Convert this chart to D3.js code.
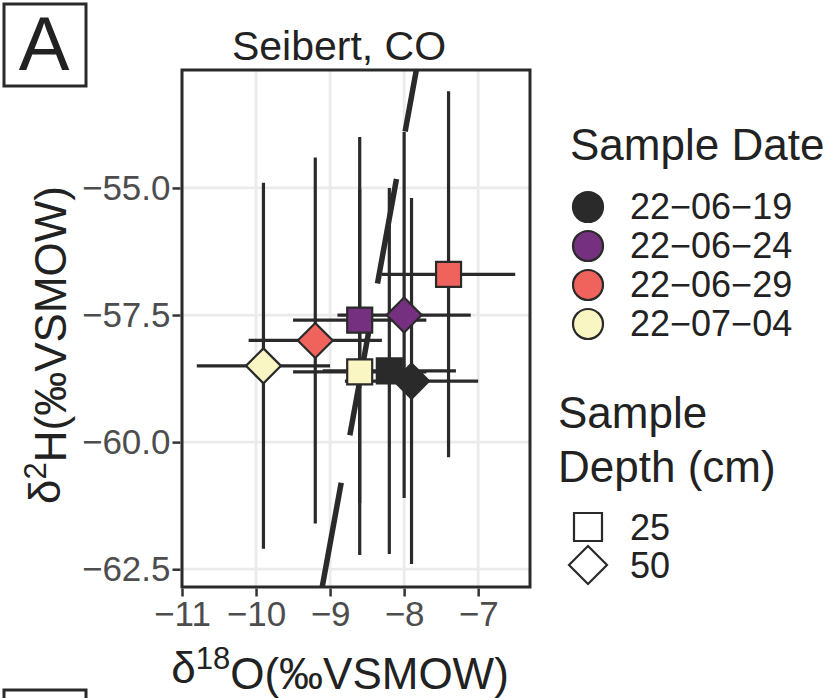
<!DOCTYPE html>
<html lang="en">
<head>
<meta charset="UTF-8" />
<title>Seibert, CO</title>
<script src="https://d3js.org/d3.v7.min.js"></script>
<style>
  body { margin: 0; background: #fff; }
  text { font-family: "Liberation Sans", Arial, sans-serif; }
</style>
</head>
<body>
<div id="chart"></div>
<script>
var w = 833;
var h = 698;

// data
var dates = ["22-06-19", "22-06-24", "22-06-29", "22-07-04"];
var dateColors = ["#2a2a2a", "#75307f", "#f0625c", "#f9f6c3"];
var depths = [25, 50];
var sampleDate = ["22-06-19", "22-06-19", "22-06-24", "22-06-24", "22-06-29", "22-06-29", "22-07-04", "22-07-04"];
var sampleDepth = [25, 50, 25, 50, 25, 50, 25, 50];
var d18O = [-8.2, -7.9, -8.6, -8.0, -7.4, -9.2, -8.6, -9.9];
var d2H = [-58.6, -58.8, -57.6, -57.5, -56.7, -58.0, -58.62, -58.5];
var d18OErr = [0.9, 0.9, 0.9, 0.9, 0.9, 0.9, 0.9, 0.9];
var d2HErr = [3.6, 3.6, 3.6, 3.6, 3.6, 3.6, 3.6, 3.6];
var xTicks = [-11, -10, -9, -8, -7];
var yTicks = [-55, -57.5, -60, -62.5];
// meteoric water line  d2H = 8 * d18O + 10
var lineSlope = 8;
var lineIntercept = 10;

var dataset = sampleDate.map(function (d, i) {
    return { date: d, depth: sampleDepth[i], x: d18O[i], y: d2H[i], xe: d18OErr[i], ye: d2HErr[i] };
});

var ink = "#2a2a2a";
var pLeft = 182, pRight = 530, pTop = 70, pBottom = 587;

var svg = d3.select("#chart").append("svg")
    .attr("width", w)
    .attr("height", h);

var xScale = d3.scaleLinear().domain([-11, -6.3]).range([pLeft, pRight]);
var yScale = d3.scaleLinear().domain([-62.85, -52.68]).range([pBottom, pTop]);
var color = d3.scaleOrdinal().domain(dates).range(dateColors);

svg.append("defs").append("clipPath").attr("id", "panel")
    .append("rect").attr("x", pLeft).attr("y", pTop)
    .attr("width", pRight - pLeft).attr("height", pBottom - pTop);

// grid
svg.append("g").selectAll("line").data(xTicks).enter().append("line")
    .attr("x1", function (d) { return xScale(d); }).attr("x2", function (d) { return xScale(d); })
    .attr("y1", pTop).attr("y2", pBottom)
    .style("stroke", "#ebebeb").style("stroke-width", 2.8);
svg.append("g").selectAll("line").data(yTicks).enter().append("line")
    .attr("y1", function (d) { return yScale(d); }).attr("y2", function (d) { return yScale(d); })
    .attr("x1", pLeft).attr("x2", pRight)
    .style("stroke", "#ebebeb").style("stroke-width", 2.8);

var plot = svg.append("g").attr("clip-path", "url(#panel)");

// water line, dashed, drawn from the bottom of the panel upward
var yLo = yScale.domain()[0], yHi = yScale.domain()[1];
plot.append("line")
    .attr("x1", xScale((yLo - lineIntercept) / lineSlope)).attr("y1", yScale(yLo))
    .attr("x2", xScale((yHi - lineIntercept) / lineSlope)).attr("y2", yScale(yHi))
    .style("stroke", ink).style("stroke-width", 5.5)
    .style("stroke-dasharray", "106,48.3");

// error bars
plot.selectAll(".vbar").data(dataset).enter().append("line")
    .attr("class", "vbar")
    .attr("x1", function (d) { return xScale(d.x); }).attr("x2", function (d) { return xScale(d.x); })
    .attr("y1", function (d) { return yScale(d.y - d.ye); }).attr("y2", function (d) { return yScale(d.y + d.ye); })
    .style("stroke", ink).style("stroke-width", 3.2);
plot.selectAll(".hbar").data(dataset).enter().append("line")
    .attr("class", "hbar")
    .attr("y1", function (d) { return yScale(d.y); }).attr("y2", function (d) { return yScale(d.y); })
    .attr("x1", function (d) { return xScale(d.x - d.xe); }).attr("x2", function (d) { return xScale(d.x + d.xe); })
    .style("stroke", ink).style("stroke-width", 3.2);

// points: square for 25 cm, diamond for 50 cm
function shapePath(depth) {
    return depth === 25 ? "M-12.5,-12.5H12.5V12.5H-12.5Z" : "M0,-17.5L17.5,0L0,17.5L-17.5,0Z";
}
plot.selectAll(".pt").data(dataset).enter().append("path")
    .attr("class", "pt")
    .attr("transform", function (d) { return "translate(" + xScale(d.x) + "," + yScale(d.y) + ")"; })
    .attr("d", function (d) { return shapePath(d.depth); })
    .style("fill", function (d) { return color(d.date); })
    .style("stroke", ink).style("stroke-width", 2.2)
    .style("stroke-linejoin", "miter");

// panel border
svg.append("rect").attr("x", pLeft).attr("y", pTop)
    .attr("width", pRight - pLeft).attr("height", pBottom - pTop)
    .style("fill", "none").style("stroke", ink).style("stroke-width", 3);

// axes
var xAxis = d3.axisBottom(xScale).tickValues(xTicks).tickFormat(d3.format("d")).tickSize(8).tickPadding(5);
var yAxis = d3.axisLeft(yScale).tickValues(yTicks).tickFormat(d3.format(".1f")).tickSize(8).tickPadding(2);

var gx = svg.append("g").attr("transform", "translate(0," + (pBottom + 1.5) + ")").call(xAxis);
var gy = svg.append("g").attr("transform", "translate(" + (pLeft - 1.5) + ",0)").call(yAxis);
[gx, gy].forEach(function (g) {
    g.select(".domain").remove();
    g.selectAll(".tick line").style("stroke", "#333").style("stroke-width", 2.5);
    g.selectAll(".tick text").style("fill", "#4d4d4d").style("font-size", "35px")
        .style("font-family", "'Liberation Sans', Arial, sans-serif");
});

// title
svg.append("text").attr("x", 339).attr("y", 60).attr("text-anchor", "middle")
    .style("font-size", "41px").style("fill", "#222").text("Seibert, CO");

// axis titles
var xt = svg.append("text").attr("x", 340).attr("y", 683).attr("text-anchor", "middle")
    .style("font-size", "44px").style("fill", "#222");
xt.append("tspan").text("\u03b4");
xt.append("tspan").attr("dy", "-0.45em").style("font-size", "31px").text("18");
xt.append("tspan").attr("dy", "0.45em").text("O(\u2030VSMOW)");

var yt = svg.append("text").attr("transform", "translate(60,345) rotate(-90)").attr("text-anchor", "middle")
    .style("font-size", "44px").style("fill", "#222");
yt.append("tspan").text("\u03b4");
yt.append("tspan").attr("dy", "-0.45em").style("font-size", "31px").text("2");
yt.append("tspan").attr("dy", "0.45em").text("H(\u2030VSMOW)");

// panel tag
svg.append("rect").attr("x", 4).attr("y", 4).attr("width", 82).attr("height", 82)
    .style("fill", "none").style("stroke", ink).style("stroke-width", 3);
svg.append("text").attr("x", 44).attr("y", 70).attr("text-anchor", "middle")
    .style("font-size", "76px").style("fill", "#222").text("A");
svg.append("rect").attr("x", 4).attr("y", 690).attr("width", 82).attr("height", 82)
    .style("fill", "none").style("stroke", ink).style("stroke-width", 3);

// legend: sample date
var lg = svg.append("g");
lg.append("text").attr("x", 570).attr("y", 160).style("font-size", "44px").style("fill", "#222").text("Sample Date");
lg.selectAll("circle").data(dates).enter().append("circle")
    .attr("cx", 588).attr("cy", function (d, i) { return 207 + i * 39; })
    .attr("r", 15)
    .style("fill", function (d) { return color(d); })
    .style("stroke", ink).style("stroke-width", 2.2);
lg.selectAll(".dlab").data(dates).enter().append("text")
    .attr("class", "dlab")
    .attr("x", 630).attr("y", function (d, i) { return 219 + i * 39; })
    .style("font-size", "36px").style("fill", "#222")
    .text(function (d) { return d.replace(/-/g, "\u2212"); });

// legend: sample depth
lg.append("text").attr("x", 558).attr("y", 428).style("font-size", "44px").style("fill", "#222").text("Sample");
lg.append("text").attr("x", 558).attr("y", 482).style("font-size", "44px").style("fill", "#222").text("Depth (cm)");
lg.selectAll(".shp").data(depths).enter().append("path")
    .attr("class", "shp")
    .attr("transform", function (d, i) { return "translate(588," + (527 + i * 38) + ")"; })
    .attr("d", function (d) { return d === 25 ? "M-14,-14H14V14H-14Z" : "M0,-19L19,0L0,19L-19,0Z"; })
    .style("fill", "#fff").style("stroke", ink).style("stroke-width", 2.2);
lg.selectAll(".slab").data(depths).enter().append("text")
    .attr("class", "slab")
    .attr("x", 630).attr("y", function (d, i) { return 540 + i * 38; })
    .style("font-size", "36px").style("fill", "#222")
    .text(function (d) { return d; });
</script>
</body>
</html>
